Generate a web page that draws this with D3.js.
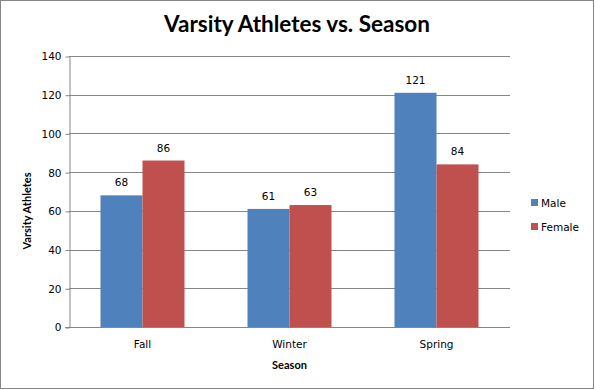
<!DOCTYPE html>
<html><head><meta charset="utf-8">
<script src="https://cdn.jsdelivr.net/npm/d3@7"></script>
<style>html,body{margin:0;padding:0;background:#fff}</style>
</head><body>
<svg id="c" width="595" height="390"></svg>
<script>
const categories = ["Fall", "Winter", "Spring"];
const seriesNames = ["Male", "Female"];
const maleValues = [68, 61, 121];
const femaleValues = [86, 63, 84];
const yTicks = [0, 20, 40, 60, 80, 100, 120, 140];
const colors = ["#4F81BD", "#C0504D"];

const svg = d3.select("#c");
const W = 595, H = 390;
const m = {left: 69, right: 510, top: 56, bottom: 327};

svg.append("rect").attr("x", 0.5).attr("y", 0.5).attr("width", W - 2).attr("height", H - 2)
  .attr("fill", "#fff").attr("stroke", "#868686");

const x = d3.scaleBand().domain(categories).range([m.left, m.right]).paddingInner(0).paddingOuter(0);
const x1 = d3.scaleBand().domain(seriesNames).range([0, 84]);
const y = d3.scaleLinear().domain([0, 140]).range([m.bottom, m.top]);

// gridlines
svg.append("g").selectAll("line").data(yTicks.filter(d => d > 0)).join("line")
  .attr("x1", m.left).attr("x2", m.right)
  .attr("y1", d => Math.round(y(d)) + 0.5).attr("y2", d => Math.round(y(d)) + 0.5)
  .attr("stroke", "#868686");

// y axis
const yAxis = svg.append("g").attr("transform", `translate(${m.left + 0.5},0.5)`)
  .call(d3.axisLeft(y).tickValues(yTicks).tickSize(4).tickPadding(4).tickSizeOuter(0));
yAxis.select(".domain").attr("stroke", "#868686");
yAxis.selectAll(".tick line").attr("stroke", "#868686");
yAxis.selectAll("text").attr("font-family", "DejaVu Sans").attr("font-size", "10.5px").attr("fill", "#000");

// bars
const data = categories.map((c, i) => ({cat: c, vals: [maleValues[i], femaleValues[i]]}));
const groups = svg.append("g").selectAll("g").data(data).join("g")
  .attr("transform", d => `translate(${x(d.cat) + x.bandwidth() / 2 - 42},0)`);
groups.selectAll("rect").data(d => d.vals.map((v, j) => ({s: seriesNames[j], v, j}))).join("rect")
  .attr("x", d => x1(d.s)).attr("width", x1.bandwidth())
  .attr("y", d => y(d.v)).attr("height", d => y(0) - y(d.v))
  .attr("fill", d => colors[d.j]);
groups.selectAll("text").data(d => d.vals.map((v, j) => ({s: seriesNames[j], v, j}))).join("text")
  .attr("x", d => x1(d.s) + x1.bandwidth() / 2).attr("y", d => y(d.v) - 9)
  .attr("text-anchor", "middle").attr("font-family", "DejaVu Sans").attr("font-size", "10.5px")
  .text(d => d.v);

// x axis
const xAxis = svg.append("g").attr("transform", `translate(0,${m.bottom + 0.5})`)
  .call(d3.axisBottom(x).tickSize(0).tickPadding(13).tickSizeOuter(0));
xAxis.select(".domain").attr("stroke", "#868686").attr("d", `M${m.left - 4},0H${m.right}`);
xAxis.selectAll("text").attr("font-family", "DejaVu Sans").attr("font-size", "10.5px").attr("fill", "#000");

// title
svg.append("text").attr("x", 297).attr("y", 32).attr("text-anchor", "middle")
  .attr("font-family", "Lato").attr("font-weight", "bold").attr("font-size", "22.5px")
  .text("Varsity Athletes vs. Season");

// axis titles
svg.append("text").attr("x", 289.5).attr("y", 369).attr("text-anchor", "middle")
  .attr("font-family", "Lato").attr("font-weight", "bold").attr("font-size", "11px")
  .text("Season");
svg.append("text").attr("transform", "translate(31,211) rotate(-90)").attr("text-anchor", "middle")
  .attr("font-family", "Lato").attr("font-weight", "bold").attr("font-size", "11px")
  .text("Varsity Athletes");

// legend
const leg = svg.append("g").selectAll("g").data(seriesNames).join("g")
  .attr("transform", (d, i) => `translate(531,${199 + i * 24})`);
leg.append("rect").attr("width", 7).attr("height", 7).attr("fill", (d, i) => colors[i]);
leg.append("text").attr("x", 10).attr("y", 7.5).attr("font-family", "DejaVu Sans").attr("font-size", "10.5px")
  .text(d => d);
</script>
</body></html>
